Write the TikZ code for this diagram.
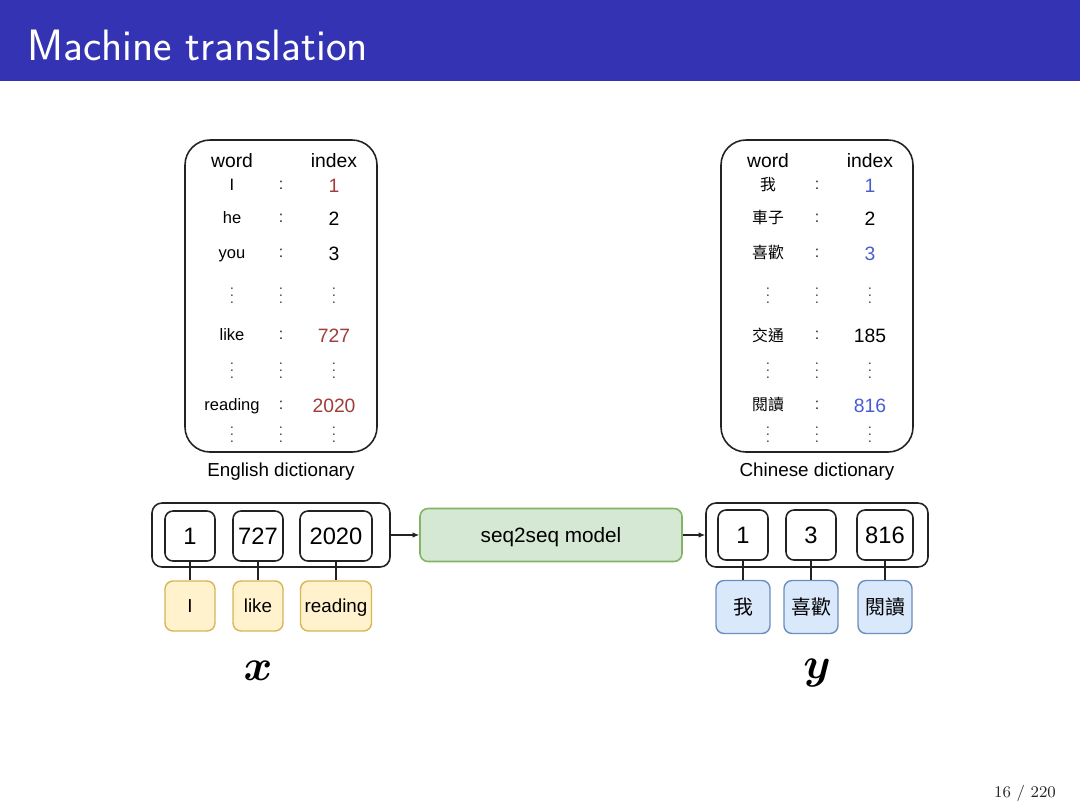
\documentclass[tikz,border=0pt]{standalone}
\usepackage{fontspec}
\usepackage{bm}
\usetikzlibrary{arrows.meta, positioning}
\newfontfamily\arialfont{Liberation Sans}
\newfontfamily\cjk{Noto Sans CJK TC}
\definecolor{beamerblue}{HTML}{3333B3}
\definecolor{idxred}{HTML}{A03C3C}
\definecolor{idxblue}{HTML}{4A5CCF}
\definecolor{modelfill}{HTML}{D5E8D4}
\definecolor{modeldraw}{HTML}{82B366}
\definecolor{srcfill}{HTML}{FFF2CC}
\definecolor{srcdraw}{HTML}{D6B656}
\definecolor{tgtfill}{HTML}{DAE8FC}
\definecolor{tgtdraw}{HTML}{6C8EBF}
\definecolor{dkgray}{HTML}{222222}

\tikzset{
  even/.style={text depth=0pt, execute at begin node={\vphantom{Hd}}},
  dictbox/.style={draw=dkgray, line width=0.9pt, rounded corners=5mm,
    minimum width=38.4mm, minimum height=62.4mm},
  seqbox/.style={draw=dkgray, line width=0.9pt, rounded corners=2mm,
    minimum height=12.8mm},
  idxbox/.style={draw=dkgray, line width=0.9pt, rounded corners=1.6mm,
    minimum width=10mm, minimum height=10mm, inner sep=0pt, even,
    font=\arialfont\fontsize{13.5}{15}\selectfont},
  srcword/.style={draw=srcdraw, fill=srcfill, line width=0.8pt, rounded corners=1.6mm,
    minimum width=10mm, minimum height=10mm, inner sep=0pt, even,
    font=\arialfont\fontsize{10.7}{12}\selectfont},
  tgtword/.style={draw=tgtdraw, fill=tgtfill, line width=0.8pt, rounded corners=1.6mm,
    minimum width=10.8mm, minimum height=10.6mm, inner sep=0pt,
    font=\cjk\fontsize{11.3}{13}\selectfont},
  modelbox/.style={draw=modeldraw, fill=modelfill, line width=0.9pt, rounded corners=1.6mm,
    minimum width=52.4mm, minimum height=10.6mm, even,
    font=\arialfont\fontsize{11.8}{13}\selectfont},
  link/.style={draw=dkgray, line width=0.7pt},
  feed/.style={draw=dkgray, line width=0.7pt, -{Latex[length=1.3mm, width=1.1mm]}},
  dicthead/.style={even, font=\arialfont\fontsize{11}{12}\selectfont},
  dictword/.style={even, font=\arialfont\fontsize{9.4}{11}\selectfont},
  dictnum/.style={even, font=\arialfont\fontsize{11}{12}\selectfont},
  dictsep/.style={text=dkgray, font=\arialfont\fontsize{9}{10}\selectfont},
  dictdots/.style={text=dkgray, inner sep=0pt, font=\fontsize{8.5}{9}\selectfont},
  dictcap/.style={even, font=\arialfont\fontsize{10.7}{12}\selectfont},
}

\begin{document}
\begin{tikzpicture}[x=0.2mm, y=-0.2mm]

\useasboundingbox (0,0) rectangle (1080,809);

% Title bar
\fill[beamerblue] (0,0) rectangle (1080,81);
\node[anchor=base west, text=white, font=\sffamily\fontsize{25}{29}\selectfont] (title)
  at (21,60) {Machine translation};

% --- English dictionary ---
\node[dictbox] (endict) at (281,296) {};
\node[dicthead] (enword) at (232,160) {word};
\node[dicthead] (enindex) at (334,160) {index};
\foreach \w/\n/\c/\y [count=\k] in {I/1/idxred/185, he/2/black/218, you/3/black/253,
    like/727/idxred/335, reading/2020/idxred/405} {
  \node[dictword] (enw\k) at (232,\y) {\w};
  \node[dictsep] (enc\k) at (281,\y) {:};
  \node[dictnum, text=\c] (enn\k) at (334,\y) {\n};
}
\foreach \y [count=\k] in {290, 365, 429} {
  \foreach \x [count=\j] in {232, 281, 334} {
    \node[dictdots] (endots\k\j) at (\x,\y) {$\vdots$};
  }
}
\node[dictcap] (encap) at (281,470) {English dictionary};

% --- Chinese dictionary ---
\node[dictbox] (zhdict) at (817,296) {};
\node[dicthead] (zhword) at (768,160) {word};
\node[dicthead] (zhindex) at (870,160) {index};
\foreach \w/\n/\c/\y [count=\k] in {我/1/idxblue/185, 車子/2/black/218, 喜歡/3/idxblue/253,
    交通/185/black/335, 閱讀/816/idxblue/405} {
  \node[font=\cjk\fontsize{9}{10}\selectfont] (zhw\k) at (768,\y) {\w};
  \node[dictsep] (zhc\k) at (817,\y) {:};
  \node[dictnum, text=\c] (zhn\k) at (870,\y) {\n};
}
\foreach \y [count=\k] in {290, 365, 429} {
  \foreach \x [count=\j] in {768, 817, 870} {
    \node[dictdots] (zhdots\k\j) at (\x,\y) {$\vdots$};
  }
}
\node[dictcap] (zhcap) at (817,470) {Chinese dictionary};

% --- Source sequence x ---
\node[seqbox, minimum width=47.6mm] (xseq) at (271,535) {};
\node[idxbox] (x1) at (190,536) {1};
\node[idxbox] (x2) at (258,536) {727};
\node[idxbox, minimum width=14.4mm] (x3) at (336,536) {2020};
\node[srcword] (xw1) at (190,606) {I};
\node[srcword] (xw2) at (258,606) {like};
\node[srcword, minimum width=14.2mm] (xw3) at (336,606) {reading};
\foreach \k in {1,2,3} {
  \draw[link] (x\k) -- (xw\k);
}

% --- Model ---
\node[modelbox] (model) at (551,535) {seq2seq model};

% --- Target sequence y ---
\node[seqbox, minimum width=44.4mm] (yseq) at (817,535) {};
\node[idxbox] (y1) at (743,535) {1};
\node[idxbox] (y2) at (811,535) {3};
\node[idxbox, minimum width=11.2mm] (y3) at (885,535) {816};
\node[tgtword] (yw1) at (743,607) {我};
\node[tgtword] (yw2) at (811,607) {喜歡};
\node[tgtword] (yw3) at (885,607) {閱讀};
\foreach \k in {1,2,3} {
  \draw[link] (y\k) -- (yw\k);
}

% Arrows through the model
\draw[feed] (xseq) -- (model);
\draw[feed] (model) -- (yseq);

% Sequence labels
\node[font=\Huge] (xlabel) at (258,671) {$\bm{x}$};
\node[font=\Huge] (ylabel) at (817,673) {$\bm{y}$};

% Page number
\node[anchor=east, text=dkgray, font=\rmfamily\fontsize{9.3}{11}\selectfont] (page)
  at (1062,793) {16 / 220};

\end{tikzpicture}
\end{document}
